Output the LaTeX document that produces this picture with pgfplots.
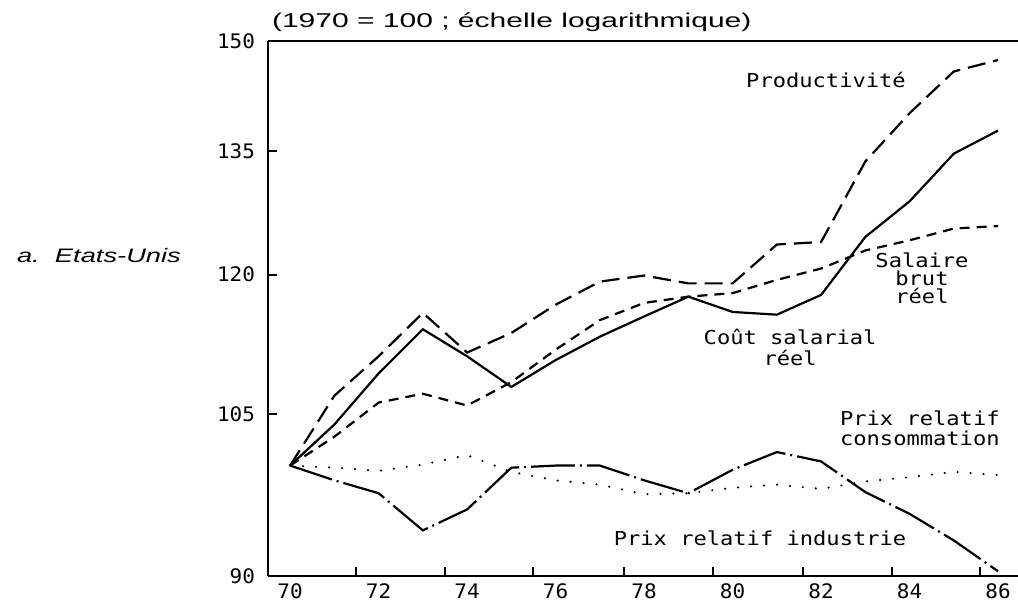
\documentclass[border=0pt]{standalone}
\usepackage{pgfplots}
\pgfplotsset{compat=1.18}
\usepackage{fontspec}
\setmainfont{Liberation Sans}
\newfontfamily\hdrfont[FakeStretch=1.4]{Liberation Sans}
\newfontfamily\wideheader[FakeStretch=1.5]{Liberation Sans}
\newfontfamily\plotfont[FakeStretch=1.15]{DejaVu Sans Mono}
\newfontfamily\tickfont[FakeStretch=1.05]{DejaVu Sans Mono}

\pgfplotstableread{
year cout prod salaire conso industrie
70 100.0 100.0 100.0 100.0 100.0
71 104.0 106.9 102.8 99.8 98.6
72 109.2 111.0 106.2 99.5 97.4
73 113.9 115.7 107.1 100.1 94.0
74 111.0 111.4 105.9 101.0 95.9
75 107.8 113.5 108.3 99.4 99.8
76 110.6 116.6 111.7 98.6 100.0
77 113.1 119.2 114.9 98.2 100.0
78 115.3 119.9 116.8 97.3 98.6
79 117.5 119.0 117.5 97.4 97.4
80 115.8 119.0 117.9 97.9 99.6
81 115.5 123.5 119.4 98.2 101.3
82 117.7 123.8 120.7 97.8 100.4
83 124.4 133.7 122.8 98.5 97.5
84 128.7 140.0 124.0 98.9 95.5
85 134.7 145.7 125.4 99.4 93.1
86 137.7 147.3 125.7 99.1 90.4
}\data

\begin{document}
\begin{tikzpicture}
\useasboundingbox (-134bp,-12.5bp) rectangle (375bp,288bp);
\begin{axis}[
  name=ax,
  at={(0,0)}, anchor=south west,
  scale only axis, width=375bp, height=267.5bp,
  xmin=69.5, xmax=86.45,
  ymode=log, ymin=90, ymax=150,
  axis x line=box, axis y line=left,
  axis line style={-, line width=1bp, black},
  xtick={71.5,73.5,75.5,77.55,79.55,81.6,83.6,85.6},
  xticklabels={},
  extra x ticks={70,72,74,76,78,80,82,84,86},
  extra x tick labels={70,72,74,76,78,80,82,84,86},
  extra x tick style={major tick length=0pt},
  ytick={90,105,120,135,150},
  yticklabels={90,105,120,135,150},
  minor ytick={},
  tick style={line width=1bp, black},
  major tick length=4.5bp,
  tick align=inside,
  xtick pos=lower, ytick pos=left,
  ticklabel style={font=\tickfont\fontsize{10bp}{12bp}\selectfont},
  yticklabel style={xshift=-3bp},
  xticklabel style={yshift=-0.5bp},
  clip=false,
]
\addplot[black, line width=1.1bp] table[x=year, y=cout] {\data};
\addplot[black, line width=1.1bp, dash pattern=on 9bp off 4bp] table[x=year, y=prod] {\data};
\addplot[black, line width=1.1bp, dash pattern=on 5bp off 3.5bp] table[x=year, y=salaire] {\data};
\addplot[black, line width=1.2bp, line cap=round, dash pattern=on 0pt off 6.5bp] table[x=year, y=conso] {\data};
\addplot[black, line width=1.1bp, dash pattern=on 22bp off 2.5bp on 1bp off 2.5bp] table[x=year, y=industrie] {\data};

\node[font=\plotfont\fontsize{9.6bp}{10bp}\selectfont] at (axis cs:82.11,144.5) {Productivité};
\node[align=center, font=\plotfont\fontsize{9.6bp}{9bp}\selectfont] at (axis cs:84.28,119.6) {Salaire\\brut\\réel};
\node[align=center, font=\plotfont\fontsize{9.6bp}{10.5bp}\selectfont] at (axis cs:81.3,111.9) {Coût salarial\\réel};
\node[anchor=west, align=left, font=\plotfont\fontsize{9.6bp}{10bp}\selectfont] at (axis cs:82.27,103.6) {Prix relatif\\consommation};
\node[font=\plotfont\fontsize{9.6bp}{10bp}\selectfont] at (axis cs:80.62,93.3) {Prix relatif industrie};
\end{axis}
\node[anchor=base west, font=\wideheader\fontsize{10bp}{12bp}\selectfont] at ([xshift=-1.5bp,yshift=6.5bp]ax.north west) {(1970 = 100 ; échelle logarithmique)};
\node[anchor=base west, font=\hdrfont\itshape\fontsize{9.75bp}{12bp}\selectfont] at ([xshift=-129bp,yshift=156.5bp]ax.south west) {a.\ \ Etats-Unis};
\end{tikzpicture}
\end{document}
